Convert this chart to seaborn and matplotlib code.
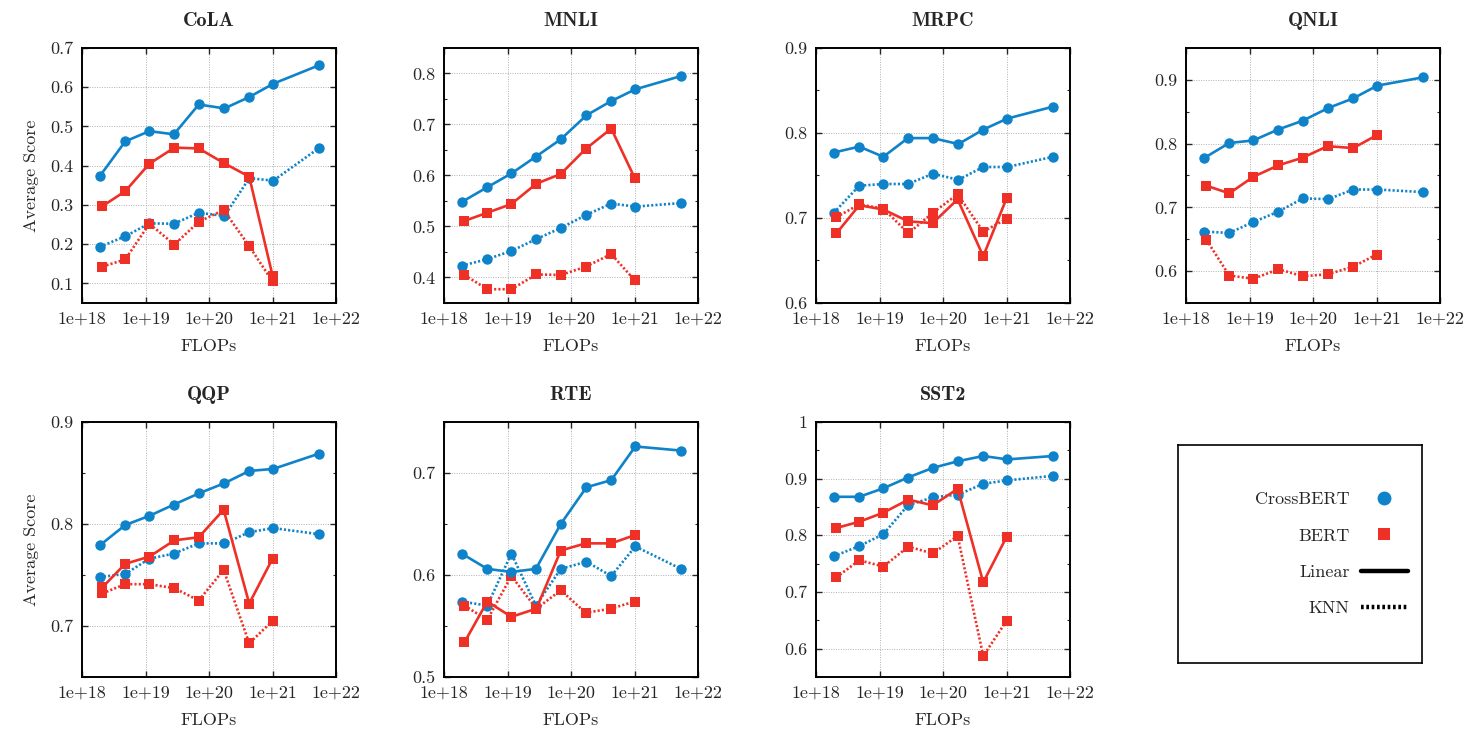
import numpy as np
import pandas as pd
import matplotlib
matplotlib.use("Agg")
import matplotlib.pyplot as plt
import seaborn as sns
from matplotlib.lines import Line2D
from matplotlib.ticker import FixedLocator, FuncFormatter, MultipleLocator, LogLocator, NullFormatter

# FLOPs of the checkpoints
x_cross = [1.9e18, 4.8e18, 1.15e19, 2.8e19, 6.9e19, 1.75e20, 4.3e20, 1.03e21, 5.4e21]
x_bert = [2.1e18, 4.8e18, 1.15e19, 2.85e19, 6.9e19, 1.7e20, 4.3e20, 1.0e21]

tasks = ["CoLA", "MNLI", "MRPC", "QNLI", "QQP", "RTE", "SST2"]

# CoLA
cola_cross_lin = [0.373, 0.462, 0.488, 0.480, 0.556, 0.546, 0.575, 0.609, 0.656]
cola_cross_knn = [0.193, 0.220, 0.253, 0.252, 0.280, 0.272, 0.368, 0.362, 0.445]
cola_bert_lin = [0.297, 0.335, 0.405, 0.446, 0.444, 0.407, 0.372, 0.120]
cola_bert_knn = [0.143, 0.161, 0.252, 0.199, 0.257, 0.287, 0.195, 0.105]
# MNLI
mnli_cross_lin = [0.548, 0.577, 0.604, 0.637, 0.671, 0.718, 0.746, 0.769, 0.795]
mnli_cross_knn = [0.423, 0.436, 0.452, 0.475, 0.497, 0.523, 0.545, 0.539, 0.546]
mnli_bert_lin = [0.511, 0.527, 0.544, 0.584, 0.603, 0.652, 0.692, 0.596]
mnli_bert_knn = [0.405, 0.377, 0.377, 0.406, 0.405, 0.421, 0.446, 0.395]
# MRPC
mrpc_cross_lin = [0.777, 0.784, 0.772, 0.794, 0.794, 0.787, 0.804, 0.817, 0.831]
mrpc_cross_knn = [0.706, 0.738, 0.740, 0.740, 0.752, 0.745, 0.760, 0.760, 0.772]
mrpc_bert_lin = [0.682, 0.715, 0.710, 0.696, 0.694, 0.722, 0.655, 0.723]
mrpc_bert_knn = [0.701, 0.716, 0.711, 0.682, 0.706, 0.728, 0.684, 0.699]
# QNLI
qnli_cross_lin = [0.777, 0.801, 0.805, 0.822, 0.836, 0.856, 0.871, 0.891, 0.904]
qnli_cross_knn = [0.662, 0.660, 0.677, 0.693, 0.714, 0.713, 0.728, 0.728, 0.724]
qnli_bert_lin = [0.734, 0.722, 0.748, 0.766, 0.778, 0.796, 0.793, 0.813]
qnli_bert_knn = [0.649, 0.593, 0.588, 0.603, 0.592, 0.595, 0.607, 0.626]
# QQP
qqp_cross_lin = [0.779, 0.799, 0.808, 0.819, 0.830, 0.840, 0.852, 0.854, 0.869]
qqp_cross_knn = [0.748, 0.751, 0.766, 0.771, 0.781, 0.781, 0.792, 0.796, 0.790]
qqp_bert_lin = [0.738, 0.761, 0.768, 0.784, 0.787, 0.814, 0.722, 0.766]
qqp_bert_knn = [0.732, 0.741, 0.741, 0.737, 0.725, 0.755, 0.683, 0.705]
# RTE
rte_cross_lin = [0.621, 0.606, 0.603, 0.606, 0.650, 0.686, 0.693, 0.726, 0.722]
rte_cross_knn = [0.574, 0.570, 0.621, 0.570, 0.606, 0.613, 0.599, 0.628, 0.606]
rte_bert_lin = [0.534, 0.574, 0.559, 0.567, 0.624, 0.631, 0.631, 0.639]
rte_bert_knn = [0.570, 0.556, 0.599, 0.567, 0.585, 0.563, 0.567, 0.574]
# SST2
sst2_cross_lin = [0.868, 0.868, 0.883, 0.902, 0.919, 0.931, 0.940, 0.934, 0.940]
sst2_cross_knn = [0.763, 0.781, 0.802, 0.853, 0.867, 0.872, 0.891, 0.897, 0.905]
sst2_bert_lin = [0.813, 0.824, 0.840, 0.863, 0.853, 0.882, 0.717, 0.797]
sst2_bert_knn = [0.726, 0.756, 0.745, 0.780, 0.768, 0.799, 0.587, 0.649]

task_data = {
    "CoLA": (cola_cross_lin, cola_cross_knn, cola_bert_lin, cola_bert_knn),
    "MNLI": (mnli_cross_lin, mnli_cross_knn, mnli_bert_lin, mnli_bert_knn),
    "MRPC": (mrpc_cross_lin, mrpc_cross_knn, mrpc_bert_lin, mrpc_bert_knn),
    "QNLI": (qnli_cross_lin, qnli_cross_knn, qnli_bert_lin, qnli_bert_knn),
    "QQP": (qqp_cross_lin, qqp_cross_knn, qqp_bert_lin, qqp_bert_knn),
    "RTE": (rte_cross_lin, rte_cross_knn, rte_bert_lin, rte_bert_knn),
    "SST2": (sst2_cross_lin, sst2_cross_knn, sst2_bert_lin, sst2_bert_knn),
}
ylims = {
    "CoLA": (0.05, 0.7), "MNLI": (0.35, 0.85), "MRPC": (0.6, 0.9),
    "QNLI": (0.55, 0.95), "QQP": (0.65, 0.9), "RTE": (0.5, 0.75), "SST2": (0.55, 1.0),
}

BLUE = "#0f83c9"
RED = "#ee3026"
DOT = (0, (0.8, 0.8))

sns.set_style("ticks")
plt.rcParams["font.family"] = ["cmr10", "DejaVu Serif"]
plt.rcParams["axes.formatter.use_mathtext"] = True
plt.rcParams["font.size"] = 13

fig = plt.figure(figsize=(14.77, 7.39), dpi=100)
W, H = 1477, 739
lefts = [82, 444, 816, 1186]
tops = [48, 422]
aw, ah = 254, 255


def sci(v, pos):
    return "1e+%d" % int(round(np.log10(v)))


def yfmt(v, pos):
    return "1" if abs(v - 1) < 1e-9 else "%.1f" % v


for i, task in enumerate(tasks):
    r, c = divmod(i, 4)
    ax = fig.add_axes([lefts[c] / W, 1 - (tops[r] + ah) / H, aw / W, ah / H])
    cl, ck, bl, bk = task_data[task]
    kw = dict(ax=ax, markersize=7.5, markeredgewidth=0, linewidth=1.9)
    sns.lineplot(x=x_cross, y=ck, color=BLUE, marker="o", linestyle=DOT, **kw)
    sns.lineplot(x=x_bert, y=bk, color=RED, marker="s", linestyle=DOT, **kw)
    sns.lineplot(x=x_cross, y=cl, color=BLUE, marker="o", linestyle="-", **kw)
    sns.lineplot(x=x_bert, y=bl, color=RED, marker="s", linestyle="-", **kw)

    ax.set_xscale("log")
    ax.set_xlim(1e18, 1e22)
    ax.set_ylim(*ylims[task])
    ax.xaxis.set_major_locator(FixedLocator([1e18, 1e19, 1e20, 1e21, 1e22]))
    ax.xaxis.set_major_formatter(FuncFormatter(sci))
    ax.xaxis.set_minor_locator(LogLocator(base=10, subs=np.arange(2, 10)))
    ax.xaxis.set_minor_formatter(NullFormatter())
    ax.yaxis.set_major_locator(MultipleLocator(0.1))
    ax.yaxis.set_major_formatter(FuncFormatter(yfmt))
    if task != "CoLA":
        ax.yaxis.set_minor_locator(MultipleLocator(0.05))
    ax.tick_params(which="both", direction="in", top=True, right=True, labelsize=13, pad=6)
    ax.tick_params(which="major", length=4, width=1)
    ax.tick_params(which="minor", length=2.5, width=0.8)
    ax.grid(True, which="major", color="#b0b0b0", linestyle=(0, (1, 1.5)), linewidth=0.7)
    ax.set_axisbelow(True)
    for s in ax.spines.values():
        s.set_linewidth(1.4)
        s.set_color("black")
    ax.set_title(task, fontsize=14.5, fontfamily="cmb10", pad=16)
    ax.set_xlabel("FLOPs", fontsize=13, labelpad=9)
    if c == 0:
        ax.set_ylabel("Average Score", fontsize=13, labelpad=8)
    else:
        ax.set_ylabel("")

# legend panel
lax = fig.add_axes([1178 / W, 1 - 663 / H, 244 / W, 218 / H])
lax.set_xticks([])
lax.set_yticks([])
for s in lax.spines.values():
    s.set_linewidth(1.2)
    s.set_color("black")
handles = [
    Line2D([], [], color=BLUE, marker="o", linestyle="none", markersize=10, markeredgewidth=0),
    Line2D([], [], color=RED, marker="s", linestyle="none", markersize=9, markeredgewidth=0),
    Line2D([], [], color="black", linestyle="-", linewidth=3.2),
    Line2D([], [], color="black", linestyle=(0, (0.6, 0.6)), linewidth=3.2),
]
labels = ["CrossBERT", "BERT", "Linear", "KNN"]
# markerfirst=False right-aligns the rows, so labels line up on the right
lax.legend(handles, labels, loc="center right", frameon=False, markerfirst=False,
           fontsize=13, handlelength=2.6, handletextpad=0.6, labelspacing=1.15,
           borderaxespad=0.4)

fig.savefig("out.png", dpi=100, facecolor="white")
